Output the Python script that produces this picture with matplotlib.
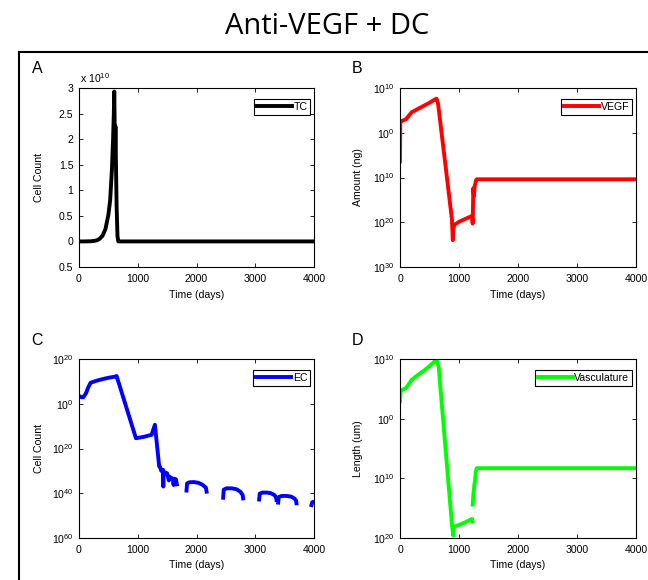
import numpy as np
import matplotlib
matplotlib.use("Agg")
import matplotlib.pyplot as plt
from matplotlib.lines import Line2D

plt.rcParams['font.family'] = ['Liberation Sans', 'DejaVu Sans']
plt.rcParams['mathtext.default'] = 'regular'

nan = np.nan

# ---- data ----
# A: tumour cells, units of 1e10
tc_days = [0, 100, 200, 250, 300, 350, 400, 450, 500, 530, 560, 580, 595, 600,
           605, 612, 620, 628, 640, 655, 670, 700, 4000]
tc_vals = [0, 0.0, 0.003, 0.008, 0.02, 0.05, 0.11, 0.24, 0.52, 0.8, 1.4, 2.0, 2.6, 2.93,
           2.5, 1.6, 2.25, 1.6, 0.7, 0.1, 0.0, 0.0, 0.0]

# B: VEGF, log10 of amount
vegf_days = [0, 5, 20, 60, 100, 150, 200, 300, 400, 500, 600, 620, 640, 650, 880,
             895, 905, 920, 1000, 1100, 1220, 1232, 1243, 1254, 1266, 1277, 1290, 1300, 4000]
vegf_log = [-6.4, 2.3, 2.6, 2.8, 3.0, 3.8, 4.6, 5.3, 6.0, 6.7, 7.5, 7.6, 6.8, 6.0, -19.3,
            -24.0, -21.5, -20.6, -19.9, -19.3, -18.6, -20.3, -12.4, -14.2, -12.0, -11.3, -10.6, -10.4, -10.4]

# C: endothelial cells, log10 of count (nan = gap)
ec_days = [0, 40, 74, 119, 160, 198, 300, 400, 500, 612, 640, 969, 1100, 1235, 1292, 1365,
           1378, 1400, 1430, 1435, 1440, 1470, 1500, 1530, 1540, 1580, 1600, 1610, 1620, 1650, 1665, nan,
           1830, 1840, 1880, 1950, 2030, 2100, 2160, 2172, nan,
           2454, 2464, 2510, 2600, 2680, 2750, 2785, 2794, nan,
           3066, 3076, 3120, 3200, 3270, 3330, 3355, 3361, nan,
           3390, 3400, 3450, 3530, 3610, 3670, 3698, 3702, nan,
           3957, 3970, 4000]
ec_log = [3.5, 2.9, 2.9, 4.7, 7.5, 9.4, 10.3, 11.0, 11.6, 12.1, 12.4, -15.4, -14.8, -13.9, -9.4, -28.0,
          -28.1, -30.0, -29.5, -37.0, -30.4, -30.8, -31.1, -34.3, -32.6, -33.3, -33.8, -36.3, -33.5, -33.8, -36.0, nan,
          -38.8, -35.6, -35.1, -35.0, -35.3, -36.2, -37.5, -39.3, nan,
          -42.0, -38.4, -37.8, -37.8, -38.2, -39.4, -40.8, -42.3, nan,
          -42.8, -40.2, -39.7, -39.7, -40.0, -40.9, -42.0, -43.0, nan,
          -44.2, -41.7, -41.2, -41.2, -41.5, -42.4, -43.5, -44.5, nan,
          -45.3, -44.0, -43.8]

# D: vasculature, log10 of length
vas_days = [0, 11, 30, 100, 150, 198, 300, 400, 500, 600, 620, 655, 881, 904, 915, 1000,
            1100, 1220, 1228, nan, 1232, 1245, 1260, 1270, 1285, 1300, 4000]
vas_log = [2.9, 4.5, 4.8, 5.1, 5.8, 6.5, 7.3, 8.0, 8.8, 9.7, 9.9, 8.7, -17.8, -19.6, -18.1, -17.8,
           -17.4, -16.8, -17.2, nan, -14.4, -12.6, -11.1, -10.5, -8.9, -8.3, -8.3]

xticks = [0, 1000, 2000, 3000, 4000]
a_ticks = [-0.5, 0, 0.5, 1, 1.5, 2, 2.5, 3]
a_labels = ['0.5', '0', '0.5', '1', '1.5', '2', '2.5', '3']
b_exp = [10, 0, -10, -20, -30]
c_exp = [20, 0, -20, -40, -60]
d_exp = [10, 0, -10, -20]

FS = 7.6

fig = plt.figure(figsize=(6.48, 5.80), dpi=100)
W, H = 648.0, 580.0


def add_ax(l, t, r, b):
    return fig.add_axes([l / W, 1 - b / H, (r - l) / W, (b - t) / H])


def style(ax):
    ax.tick_params(direction='in', length=3, width=0.6, top=True, right=True,
                   labelsize=FS, pad=4)
    ax.tick_params(axis='x', pad=5)
    ax.minorticks_off()
    for s in ax.spines.values():
        s.set_linewidth(0.8)
    ax.set_xlim(0, 4000)
    ax.set_xticks(xticks)
    ax.set_xlabel('Time (days)', fontsize=FS)


def leg(ax):
    lg = ax.legend(loc='upper right', bbox_to_anchor=(0.985, 0.94), fontsize=FS,
                   fancybox=False, framealpha=1, edgecolor='black',
                   handlelength=3.3, handletextpad=0.15, borderpad=0.3,
                   borderaxespad=0)
    lg.get_frame().set_linewidth(0.8)


def log_ticks(ax, exps):
    ax.set_yscale('log')
    ax.set_ylim(10.0 ** min(exps), 10.0 ** max(exps))
    ax.set_yticks([10.0 ** e for e in exps])
    ax.set_yticklabels(['$10^{%d}$' % abs(e) for e in exps])
    ax.minorticks_off()


# A
axA = add_ax(79, 88, 314, 267)
axA.plot(tc_days, tc_vals, color='black', lw=2.8, label='TC')
style(axA)
axA.set_ylim(-0.5, 3)
axA.set_yticks(a_ticks)
axA.set_yticklabels(a_labels)
axA.set_ylabel('Cell Count', fontsize=FS)
axA.text(0.005, 1.015, 'x $10^{10}$', transform=axA.transAxes, fontsize=FS,
         ha='left', va='bottom')
leg(axA)

# B
axB = add_ax(400, 88, 636, 267)
axB.plot(vegf_days, 10.0 ** np.array(vegf_log), color='#ff0000', lw=2.8, label='VEGF')
style(axB)
log_ticks(axB, b_exp)
axB.set_ylabel('Amount (ng)', fontsize=FS)
leg(axB)

# C
axC = add_ax(79, 359, 314, 538)
axC.plot(ec_days, 10.0 ** np.array(ec_log), color='#0000ff', lw=2.8, label='EC')
style(axC)
log_ticks(axC, c_exp)
axC.set_ylabel('Cell Count', fontsize=FS)
leg(axC)

# D
axD = add_ax(400, 359, 636, 538)
axD.plot(vas_days, 10.0 ** np.array(vas_log), color='#00ff00', lw=2.8, label='Vasculature')
style(axD)
log_ticks(axD, d_exp)
axD.set_ylabel('Length (um)', fontsize=FS)
leg(axD)

for ax in (axA, axC):
    ax.yaxis.set_label_coords(-0.15, 0.5)
for ax in (axB, axD):
    ax.yaxis.set_label_coords(-0.155, 0.5)

# panel letters
for letter, x, y in [('A', 32, 73), ('B', 352, 73), ('C', 31, 345), ('D', 352, 345)]:
    fig.text(x / W, 1 - y / H, letter, fontsize=11.5, ha='left', va='baseline')

# frame lines (top and left)
fig.add_artist(Line2D([19 / W, 1], [1 - 52 / H, 1 - 52 / H], color='black', lw=1.5))
fig.add_artist(Line2D([19 / W, 19 / W], [1 - 52 / H, 0], color='black', lw=1.5))

fig.text(0.505, 1 - 34 / H, 'Anti-VEGF + DC', fontsize=21, ha='center', va='baseline',
         family=['Open Sans', 'DejaVu Sans'])

fig.savefig('out.png', dpi=100)
